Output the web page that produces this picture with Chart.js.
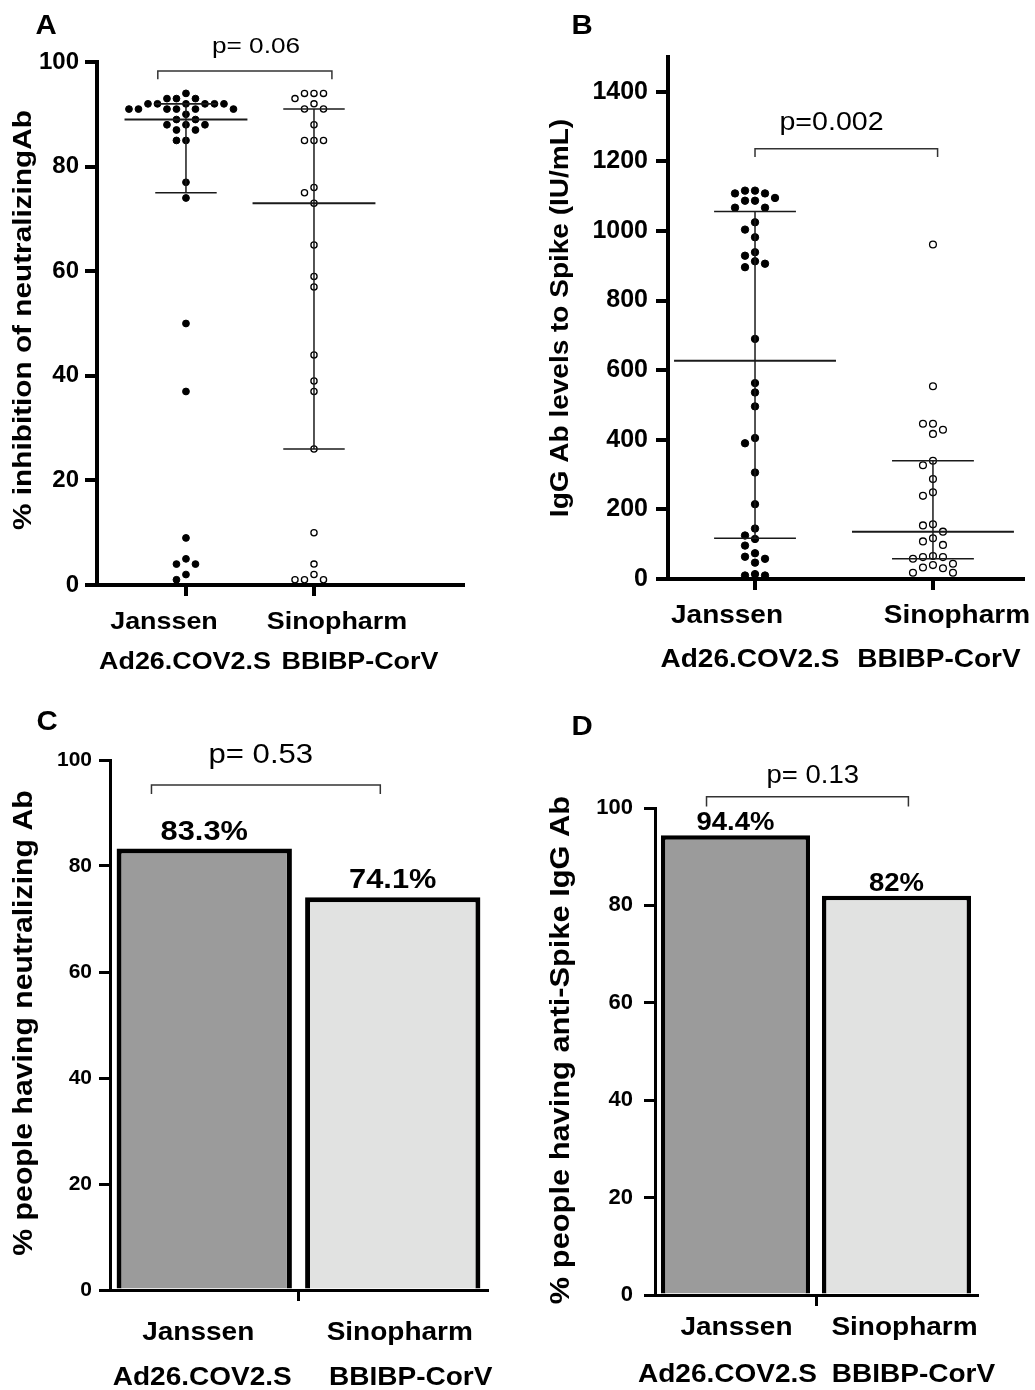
<!DOCTYPE html>
<html>
<head>
<meta charset="utf-8">
<script src="https://cdn.jsdelivr.net/npm/chart.js@4.4.1/dist/chart.umd.min.js"></script>
<style>
  body { margin: 0; background: #fff; }
  #fig { position: relative; width: 1035px; height: 1390px; }
  #fig canvas { position: absolute; }
</style>
</head>
<body>
<div id="fig">
  <canvas id="chartA" width="517" height="690" style="left:0;top:0"></canvas>
  <canvas id="chartB" width="518" height="690" style="left:517px;top:0"></canvas>
  <canvas id="chartC" width="517" height="700" style="left:0;top:690px"></canvas>
  <canvas id="chartD" width="518" height="700" style="left:517px;top:690px"></canvas>
</div>
<script>
// --- Datos ---
const groups = ['Janssen', 'Sinopharm'];
const vaccines = ['Ad26.COV2.S', 'BBIBP-CorV'];

// A: % inhibition of neutralizing Ab, one value per person
const neutJanssen = [94, 93, 93, 93, 92, 92, 92, 92, 92, 92, 91, 91, 91, 91, 91, 91, 90, 89, 89,
  88, 88, 88, 87, 87, 85, 85, 77, 74, 50, 37, 9, 5, 4, 4, 2, 1];
const neutSinopharm = [94, 94, 94, 93, 92, 91, 91, 88, 85, 85, 85, 76, 75, 73, 65, 59, 57,
  44, 39, 37, 26, 10, 4, 2, 1, 1, 1];
const neutMedian = [89, 73];
const neutQ1 = [75, 26];
const neutQ3 = [92, 91];
const neutTicks = [0, 20, 40, 60, 80, 100];

// B: IgG Ab levels to Spike (IU/mL)
const iggJanssen = [1116, 1116, 1108, 1108, 1095, 1087, 1087, 1067, 1067, 1025, 1004, 982, 939,
  929, 913, 906, 896, 690, 563, 536, 496, 405, 390, 306, 215, 145, 125, 115, 96, 74, 64, 58,
  47, 14, 10, 10];
const iggSinopharm = [961, 554, 446, 446, 429, 417, 340, 327, 287, 249, 239, 157, 154, 136, 117,
  108, 98, 66, 63, 63, 58, 44, 40, 33, 31, 18, 18];
const iggMedian = [627, 136];
const iggQ1 = [117, 58];
const iggQ3 = [1056, 340];
const iggTicks = [0, 200, 400, 600, 800, 1000, 1200, 1400];

// C y D: % de personas positivas
const pctNeutralizing = [83.3, 74.1];
const pctAntiSpike = [94.4, 82];
const pctTicks = [0, 20, 40, 60, 80, 100];

const pLabels = ['p= 0.06', 'p=0.002', 'p= 0.53', 'p= 0.13'];

// --- Utilidades de dibujo ---
const FONT = '"Liberation Sans", Arial, sans-serif';
Chart.defaults.font.family = FONT;
Chart.defaults.color = '#000';

// texto algo ensanchado, como en la figura original
function txt(ctx, s, x, y, size, opt = {}) {
  ctx.save();
  ctx.translate(x, y);
  if (opt.rotate) ctx.rotate(-Math.PI / 2);
  ctx.scale(opt.sx || 1.12, 1);
  ctx.font = `${opt.weight || 'bold'} ${size}px ${FONT}`;
  ctx.fillStyle = '#000';
  ctx.textAlign = 'center';
  ctx.textBaseline = opt.baseline || 'middle';
  ctx.fillText(s, 0, 0);
  ctx.restore();
}

// letra del panel, título del eje, etiquetas, corchete del p-valor
function decor(spec) {
  return {
    id: 'decor' + spec.letter,
    afterDraw(chart) {
      const { ctx } = chart;
      const xs = chart.scales.x, ys = chart.scales.y;
      txt(ctx, spec.letter, spec.letterAt[0], spec.letterAt[1], 28, { sx: 1.05 });
      txt(ctx, spec.title, spec.titleAt[0], spec.titleAt[1], spec.titleSize, { rotate: true, sx: spec.titleSx });

      spec.catValues.forEach((v, i) => {
        const px = xs.getPixelForValue(v);
        txt(ctx, groups[i], px + spec.dx1[i], spec.row1, spec.catSize);
        txt(ctx, vaccines[i], px + spec.dx2[i], spec.row2, spec.catSize);
      });

      const b = spec.bracket;
      const x1 = xs.getPixelForValue(b.x1), x2 = xs.getPixelForValue(b.x2);
      const by = ys.getPixelForValue(b.y), bt = ys.getPixelForValue(b.yTick);
      ctx.save();
      ctx.strokeStyle = '#333';
      ctx.lineWidth = 1.5;
      ctx.beginPath();
      ctx.moveTo(x1, bt); ctx.lineTo(x1, by); ctx.lineTo(x2, by); ctx.lineTo(x2, bt);
      ctx.stroke();
      ctx.restore();
      txt(ctx, b.label, xs.getPixelForValue(b.lx), ys.getPixelForValue(b.ly), b.size, { weight: 'normal', sx: b.sx });

      if (spec.barValues) {
        chart.getDatasetMeta(0).data.forEach((bar, i) => {
          txt(ctx, spec.barValues[i] + '%', bar.x, bar.y - spec.gap, spec.valueSize, { baseline: 'alphabetic', sx: 1.1 });
        });
      }
    }
  };
}

// reparte los puntos hacia los lados (beeswarm) usando las escalas del gráfico
function beeswarm(chart, points, centre, step) {
  const xs = chart.scales.x, ys = chart.scales.y;
  const unit = xs.getPixelForValue(centre + 1) - xs.getPixelForValue(centre);
  const placed = [];
  points.map((p, i) => i).sort((a, b) => points[b].y - points[a].y).forEach(i => {
    const py = ys.getPixelForValue(points[i].y);
    let off = 0;
    for (let k = 0; k < 80; k++) {
      const c = (k % 2 ? -1 : 1) * Math.ceil(k / 2) * step / 2;
      const free = placed.every(q => Math.abs(q.py - py) >= step * 0.85 || Math.abs(q.dx - c) >= step - 0.01);
      if (free) { off = c; break; }
    }
    placed.push({ py, dx: off });
    points[i].x = centre + off / unit;
  });
}

const axisGrid = (w, len, color) => ({ drawOnChartArea: false, drawTicks: true, tickLength: len, lineWidth: w, color: color || '#000' });
const plainTick = v => String(v);

// --- Gráfico de puntos (A, B) ---
function dotChart(id, spec) {
  const lines = [];
  [0, 1].forEach(i => {
    const c = i + 1;
    const seg = (xa, ya, xb, yb, w) => lines.push({
      data: [{ x: xa, y: ya }, { x: xb, y: yb }], showLine: true, pointRadius: 0,
      borderColor: '#1a1a1a', borderWidth: w, order: 0
    });
    seg(c - spec.medHalf, spec.median[i], c + spec.medHalf, spec.median[i], 2);
    seg(c - spec.capHalf, spec.q3[i], c + spec.capHalf, spec.q3[i], 1.6);
    seg(c - spec.capHalf, spec.q1[i], c + spec.capHalf, spec.q1[i], 1.6);
    seg(c, spec.q1[i], c, spec.q3[i], 1.5);
  });
  const dots = [
    { data: spec.values[0].map(v => ({ x: 1, y: v })), pointRadius: spec.r, backgroundColor: '#000', borderColor: '#000', borderWidth: 1, order: 1 },
    { data: spec.values[1].map(v => ({ x: 2, y: v })), pointRadius: spec.r - 0.3, backgroundColor: '#fff', borderColor: '#000', borderWidth: 1.3, order: 1 }
  ];
  const chart = new Chart(document.getElementById(id), {
    type: 'scatter',
    data: { datasets: [...lines, ...dots] },
    options: {
      responsive: false, animation: false, events: [],
      layout: { padding: { top: spec.top, right: spec.right, left: 0, bottom: 0 } },
      plugins: { legend: { display: false }, tooltip: { enabled: false } },
      scales: {
        x: {
          type: 'linear', min: spec.xMin, max: spec.xMax,
          afterBuildTicks: s => { s.ticks = [{ value: 1 }, { value: 2 }]; },
          afterFit: s => { s.height = spec.xAxisH; },
          ticks: { display: false },
          grid: axisGrid(4, 11),
          border: { width: 4, color: '#000' }
        },
        y: {
          min: 0, max: spec.yMax,
          afterBuildTicks: s => { s.ticks = spec.ticks.map(v => ({ value: v })); },
          afterFit: s => { s.width = spec.yAxisW; },
          ticks: { font: { size: spec.tickSize, weight: 'bold' }, color: '#000', padding: spec.tickPad, callback: plainTick },
          grid: axisGrid(4, 12),
          border: { width: 4, color: '#000' }
        }
      }
    },
    plugins: [decor(spec)]
  });
  const n = lines.length;
  beeswarm(chart, chart.data.datasets[n].data, 1, spec.step);
  beeswarm(chart, chart.data.datasets[n + 1].data, 2, spec.step);
  chart.update('none');
  return chart;
}

// --- Gráfico de barras (C, D) ---
function barChart(id, spec) {
  return new Chart(document.getElementById(id), {
    type: 'bar',
    data: {
      labels: groups,
      datasets: [{
        data: spec.barValues,
        backgroundColor: ['#9b9b9b', '#e1e2e1'],
        borderColor: '#000', borderWidth: spec.barBorder, borderSkipped: 'start',
        categoryPercentage: spec.barPct, barPercentage: 1
      }]
    },
    options: {
      responsive: false, animation: false, events: [],
      layout: { padding: { top: spec.top, right: spec.right, left: 0, bottom: 0 } },
      plugins: { legend: { display: false }, tooltip: { enabled: false } },
      scales: {
        x: {
          afterFit: s => { s.height = spec.xAxisH; },
          ticks: { display: false },
          grid: Object.assign(axisGrid(3, 11, c => c.index === 1 ? '#000' : 'rgba(0,0,0,0)'), { offset: true }),
          border: { width: 3, color: '#000' }
        },
        y: {
          min: 0, max: 100,
          afterBuildTicks: s => { s.ticks = pctTicks.map(v => ({ value: v })); },
          afterFit: s => { s.width = spec.yAxisW; },
          ticks: { font: { size: spec.tickSize, weight: 'bold' }, color: '#000', padding: spec.tickPad, callback: plainTick },
          grid: axisGrid(3, 11),
          border: { width: 3, color: '#000' }
        }
      }
    },
    plugins: [decor(spec)]
  });
}

dotChart('chartA', {
  letter: 'A', letterAt: [46, 26],
  title: '% inhibition of neutralizingAb', titleAt: [24, 320], titleSize: 25, titleSx: 1.19,
  values: [neutJanssen, neutSinopharm], median: neutMedian, q1: neutQ1, q3: neutQ3,
  ticks: neutTicks, yMax: 100, xMin: 0.305, xMax: 3.164,
  top: 62, right: 54, xAxisH: 105, yAxisW: 97, tickSize: 24, tickPad: 6,
  medHalf: 0.48, capHalf: 0.24, r: 3.4, step: 9.5,
  catValues: [1, 2], catSize: 24, row1: 622, row2: 662, dx1: [-22, 23], dx2: [-1, 46],
  bracket: { x1: 0.78, x2: 2.14, y: 98.3, yTick: 96.7, lx: 1.547, ly: 102.9, label: pLabels[0], size: 22, sx: 1.19 }
});

dotChart('chartB', {
  letter: 'B', letterAt: [65, 26],
  title: 'IgG Ab levels to Spike (IU/mL)', titleAt: [44, 318], titleSize: 25, titleSx: 1.12,
  values: [iggJanssen, iggSinopharm], median: iggMedian, q1: iggQ1, q3: iggQ3,
  ticks: iggTicks, yMax: 1500, xMin: 0.511, xMax: 2.506,
  top: 57, right: 12, xAxisH: 111, yAxisW: 151, tickSize: 25, tickPad: 8,
  medHalf: 0.455, capHalf: 0.23, r: 3.7, step: 10,
  catValues: [1, 2], catSize: 25, row1: 616, row2: 660, dx1: [-28, 24], dx2: [-5, 6],
  bracket: { x1: 1.0, x2: 2.026, y: 1236, yTick: 1213, lx: 1.43, ly: 1311, label: pLabels[1], size: 26, sx: 1.1 }
});

barChart('chartC', {
  letter: 'C', letterAt: [47, 32],
  title: '% people having neutralizing Ab', titleAt: [25, 333], titleSize: 27, titleSx: 1.12,
  barValues: pctNeutralizing, barBorder: 5, barPct: 0.93, gap: 9, valueSize: 28,
  top: 70, right: 30, xAxisH: 100, yAxisW: 110, tickSize: 21, tickPad: 7,
  catValues: [0, 1], catSize: 25, row1: 643, row2: 688, dx1: [-6, 7], dx2: [-2, 18],
  bracket: { x1: -0.28, x2: 0.934, y: 95.3, yTick: 93.6, lx: 0.30, ly: 100.9, label: pLabels[2], size: 28, sx: 1.11 }
});

barChart('chartD', {
  letter: 'D', letterAt: [65, 37],
  title: '% people having anti-Spike IgG Ab', titleAt: [44, 360], titleSize: 27.5, titleSx: 1.12,
  barValues: pctAntiSpike, barBorder: 4.5, barPct: 0.926, gap: 5, valueSize: 25,
  top: 118, right: 58, xAxisH: 95, yAxisW: 138, tickSize: 22, tickPad: 11,
  catValues: [0, 1], catSize: 25, row1: 638, row2: 685, dx1: [1, 8], dx2: [-8, 17],
  bracket: { x1: -0.18, x2: 1.074, y: 102.3, yTick: 100.3, lx: 0.48, ly: 106.6, label: pLabels[3], size: 25, sx: 1.1 }
});
</script>
</body>
</html>
